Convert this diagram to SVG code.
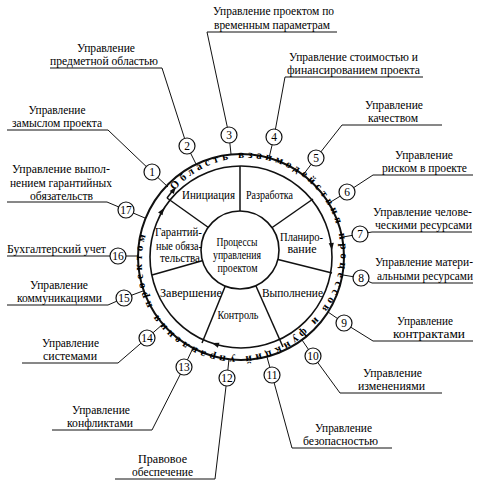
<svg xmlns="http://www.w3.org/2000/svg" xmlns:xlink="http://www.w3.org/1999/xlink" width="480" height="483" viewBox="0 0 480 483">
<style>
text{font-family:"Liberation Serif","DejaVu Serif","Times New Roman",serif;fill:#000;}
.lb{font-size:12px;text-anchor:middle;}
.in{font-size:11.8px;text-anchor:middle;}
.num{font-size:11.5px;text-anchor:middle;}
.ring{font-size:11px;font-weight:bold;letter-spacing:3.6px;}
.ln{stroke:#111;stroke-width:1;fill:none;}
.sp{stroke:#111;stroke-width:1.5;fill:none;}
.nc{fill:#fff;stroke:#111;stroke-width:1.2;}
</style>
<defs>
<path id="rp" d="M174.53,190.53 A94.5,94.5 0 1,1 307.82,323.82 A94.5,94.5 0 1,1 174.53,190.53"/>
<path id="ah" d="M0,0 L-7,-2.6 L-7,2.6 Z" fill="#111"/>
</defs>
<g id="wheel">
<circle cx="241" cy="257" r="103" fill="#fff" stroke="#111" stroke-width="2"/>
<circle cx="241" cy="257" r="91" fill="#fff" stroke="#111" stroke-width="1.6"/>
<text class="ring"><textPath xlink:href="#rp" href="#rp" textLength="570" lengthAdjust="spacing">Область взаимодействия процессов и функций управления проектом</textPath></text>
</g>
<g id="connectors">
<line class="sp" x1="240" y1="250" x2="240" y2="166"/>
<line class="sp" x1="240" y1="250" x2="313" y2="199"/>
<line class="sp" x1="240" y1="250" x2="332" y2="273"/>
<line class="sp" x1="240" y1="250" x2="283" y2="347"/>
<line class="sp" x1="240" y1="250" x2="202" y2="343"/>
<line class="sp" x1="240" y1="250" x2="152" y2="275"/>
<line class="sp" x1="240" y1="250" x2="167" y2="198"/>
<line class="sp" x1="167" y1="198" x2="172" y2="191.5"/>
<use href="#ah" xlink:href="#ah" transform="translate(176,187) rotate(-52)"/>
<use href="#ah" xlink:href="#ah" transform="translate(164,208) rotate(-58)"/>
<use href="#ah" xlink:href="#ah" transform="translate(332,250) rotate(84)"/>
<use href="#ah" xlink:href="#ah" transform="translate(212,343) rotate(198)"/>
<line class="ln" x1="168" y1="187" x2="152" y2="172"/>
<line class="ln" x1="196" y1="164" x2="187" y2="146"/>
<line class="ln" x1="231" y1="154" x2="229" y2="135"/>
<line class="ln" x1="269" y1="158" x2="274" y2="137"/>
<line class="ln" x1="303" y1="175" x2="316" y2="158"/>
<line class="ln" x1="329" y1="203" x2="347" y2="192"/>
<line class="ln" x1="343" y1="237" x2="360" y2="234"/>
<line class="ln" x1="343" y1="275" x2="361" y2="278"/>
<line class="ln" x1="328" y1="312" x2="344" y2="323"/>
<line class="ln" x1="302" y1="340" x2="313" y2="356"/>
<line class="ln" x1="267" y1="357" x2="272" y2="375"/>
<line class="ln" x1="229" y1="359" x2="227" y2="378"/>
<line class="ln" x1="193" y1="348" x2="184" y2="367"/>
<line class="ln" x1="163" y1="324" x2="147" y2="338"/>
<line class="ln" x1="143" y1="291" x2="124" y2="298"/>
<line class="ln" x1="138" y1="256" x2="118" y2="256"/>
<line class="ln" x1="145" y1="218" x2="126" y2="210"/>
<polyline class="ln" points="7,130 108,130 152,172"/>
<polyline class="ln" points="50,68 162,68 187,146"/>
<polyline class="ln" points="337,32 207,32 229,135"/>
<polyline class="ln" points="423,77 285,77 274,137"/>
<polyline class="ln" points="442,125 342,125 316,158"/>
<polyline class="ln" points="473,175 373,175 347,192"/>
<polyline class="ln" points="472,232 372,232 360,234"/>
<polyline class="ln" points="473,283 372,283 361,278"/>
<polyline class="ln" points="473,341 373,341 344,323"/>
<polyline class="ln" points="442,393 340,393 313,356"/>
<polyline class="ln" points="392,448 292,448 272,375"/>
<polyline class="ln" points="115,479 215,479 227,378"/>
<polyline class="ln" points="52,430 152,430 184,367"/>
<polyline class="ln" points="22,363 118,363 147,338"/>
<polyline class="ln" points="7,305 108,305 124,298"/>
<polyline class="ln" points="7,256 110,256 118,256"/>
<polyline class="ln" points="7,202 107,202 126,210"/>
</g>
<g id="center">
<circle cx="240" cy="250" r="39" fill="#fff" stroke="#111" stroke-width="1.6"/>
<text class="in" x="237" y="246" textLength="41" lengthAdjust="spacingAndGlyphs">Процессы</text>
<text class="in" x="237" y="259" textLength="48" lengthAdjust="spacingAndGlyphs">управления</text>
<text class="in" x="237.5" y="272" textLength="40" lengthAdjust="spacingAndGlyphs">проектом</text>
</g>
<g id="sector-init"><text class="in" x="208.5" y="199" textLength="53" lengthAdjust="spacingAndGlyphs">Инициация</text></g>
<g id="sector-dev"><text class="in" x="269.5" y="199" textLength="47" lengthAdjust="spacingAndGlyphs">Разработка</text></g>
<g id="sector-plan"><text class="in" x="301.5" y="241" textLength="43" lengthAdjust="spacingAndGlyphs">Планиро-</text><text class="in" x="302" y="253" textLength="29" lengthAdjust="spacingAndGlyphs">вание</text></g>
<g id="sector-exec"><text class="in" x="292.5" y="297" textLength="61" lengthAdjust="spacingAndGlyphs">Выполнение</text></g>
<g id="sector-ctrl"><text class="in" x="238" y="319" textLength="41" lengthAdjust="spacingAndGlyphs">Контроль</text></g>
<g id="sector-close"><text class="in" x="191" y="297" textLength="62" lengthAdjust="spacingAndGlyphs">Завершение</text></g>
<g id="sector-warr"><text class="in" x="178.5" y="236" textLength="47" lengthAdjust="spacingAndGlyphs">Гарантий-</text><text class="in" x="179" y="250" textLength="46" lengthAdjust="spacingAndGlyphs">ные обяза-</text><text class="in" x="180" y="262" textLength="40" lengthAdjust="spacingAndGlyphs">тельства</text></g>
<g id="n1"><circle class="nc" cx="152" cy="172" r="8"/><text class="num" x="152" y="176">1</text><text class="lb" x="57" y="113.5" textLength="57" lengthAdjust="spacingAndGlyphs">Управление</text><text class="lb" x="57" y="127" textLength="90" lengthAdjust="spacingAndGlyphs">замыслом проекта</text></g>
<g id="n2"><circle class="nc" cx="187" cy="146" r="8"/><text class="num" x="187" y="150">2</text><text class="lb" x="106" y="51.5" textLength="58" lengthAdjust="spacingAndGlyphs">Управление</text><text class="lb" x="104" y="65" textLength="108" lengthAdjust="spacingAndGlyphs">предметной областью</text></g>
<g id="n3"><circle class="nc" cx="229" cy="135" r="8"/><text class="num" x="229" y="139">3</text><text class="lb" x="273.5" y="14.5" textLength="121" lengthAdjust="spacingAndGlyphs">Управление проектом по</text><text class="lb" x="272" y="29" textLength="116" lengthAdjust="spacingAndGlyphs">временным параметрам</text></g>
<g id="n4"><circle class="nc" cx="274" cy="137" r="8"/><text class="num" x="274" y="141">4</text><text class="lb" x="353.5" y="60.5" textLength="129" lengthAdjust="spacingAndGlyphs">Управление стоимостью и</text><text class="lb" x="353.5" y="74" textLength="133" lengthAdjust="spacingAndGlyphs">финансированием проекта</text></g>
<g id="n5"><circle class="nc" cx="316" cy="158" r="8"/><text class="num" x="316" y="162">5</text><text class="lb" x="394" y="109" textLength="58" lengthAdjust="spacingAndGlyphs">Управление</text><text class="lb" x="393" y="122" textLength="50" lengthAdjust="spacingAndGlyphs">качеством</text></g>
<g id="n6"><circle class="nc" cx="347" cy="192" r="8"/><text class="num" x="347" y="196">6</text><text class="lb" x="424" y="159" textLength="58" lengthAdjust="spacingAndGlyphs">Управление</text><text class="lb" x="424.5" y="172" textLength="85" lengthAdjust="spacingAndGlyphs">риском в проекте</text></g>
<g id="n7"><circle class="nc" cx="360" cy="234" r="8"/><text class="num" x="360" y="238">7</text><text class="lb" x="422.5" y="216" textLength="99" lengthAdjust="spacingAndGlyphs">Управление челове-</text><text class="lb" x="423.5" y="229" textLength="97" lengthAdjust="spacingAndGlyphs">ческими ресурсами</text></g>
<g id="n8"><circle class="nc" cx="361" cy="278" r="8"/><text class="num" x="361" y="282">8</text><text class="lb" x="424" y="266" textLength="98" lengthAdjust="spacingAndGlyphs">Управление матери-</text><text class="lb" x="425" y="280" textLength="96" lengthAdjust="spacingAndGlyphs">альными ресурсами</text></g>
<g id="n9"><circle class="nc" cx="344" cy="323" r="8"/><text class="num" x="344" y="327">9</text><text class="lb" x="425" y="325" textLength="56" lengthAdjust="spacingAndGlyphs">Управление</text><text class="lb" x="429" y="338" textLength="72" lengthAdjust="spacingAndGlyphs">контрактами</text></g>
<g id="n10"><circle class="nc" cx="313" cy="356" r="8"/><text class="num" x="313" y="360">10</text><text class="lb" x="392.5" y="377" textLength="59" lengthAdjust="spacingAndGlyphs">Управление</text><text class="lb" x="391.5" y="390" textLength="67" lengthAdjust="spacingAndGlyphs">изменениями</text></g>
<g id="n11"><circle class="nc" cx="272" cy="375" r="8"/><text class="num" x="272" y="379">11</text><text class="lb" x="343.5" y="432" textLength="57" lengthAdjust="spacingAndGlyphs">Управление</text><text class="lb" x="340.5" y="445" textLength="75" lengthAdjust="spacingAndGlyphs">безопасностью</text></g>
<g id="n12"><circle class="nc" cx="227" cy="378" r="8"/><text class="num" x="227" y="382">12</text><text class="lb" x="162.5" y="463" textLength="49" lengthAdjust="spacingAndGlyphs">Правовое</text><text class="lb" x="162.5" y="476" textLength="61" lengthAdjust="spacingAndGlyphs">обеспечение</text></g>
<g id="n13"><circle class="nc" cx="184" cy="367" r="8"/><text class="num" x="184" y="371">13</text><text class="lb" x="101" y="414" textLength="58" lengthAdjust="spacingAndGlyphs">Управление</text><text class="lb" x="100" y="427" textLength="66" lengthAdjust="spacingAndGlyphs">конфликтами</text></g>
<g id="n14"><circle class="nc" cx="147" cy="338" r="8"/><text class="num" x="147" y="342">14</text><text class="lb" x="70.5" y="347" textLength="57" lengthAdjust="spacingAndGlyphs">Управление</text><text class="lb" x="70" y="360" textLength="54" lengthAdjust="spacingAndGlyphs">системами</text></g>
<g id="n15"><circle class="nc" cx="124" cy="298" r="8"/><text class="num" x="124" y="302">15</text><text class="lb" x="59" y="289" textLength="58" lengthAdjust="spacingAndGlyphs">Управление</text><text class="lb" x="59.5" y="302" textLength="85" lengthAdjust="spacingAndGlyphs">коммуникациями</text></g>
<g id="n16"><circle class="nc" cx="118" cy="256" r="8"/><text class="num" x="118" y="260">16</text><text class="lb" x="56.5" y="253" textLength="99" lengthAdjust="spacingAndGlyphs">Бухгалтерский учет</text></g>
<g id="n17"><circle class="nc" cx="126" cy="210" r="8"/><text class="num" x="126" y="214">17</text><text class="lb" x="61" y="173" textLength="98" lengthAdjust="spacingAndGlyphs">Управление выпол-</text><text class="lb" x="61" y="187" textLength="102" lengthAdjust="spacingAndGlyphs">нением гарантийных</text><text class="lb" x="61.5" y="199.5" textLength="63" lengthAdjust="spacingAndGlyphs">обязательств</text></g>
</svg>
